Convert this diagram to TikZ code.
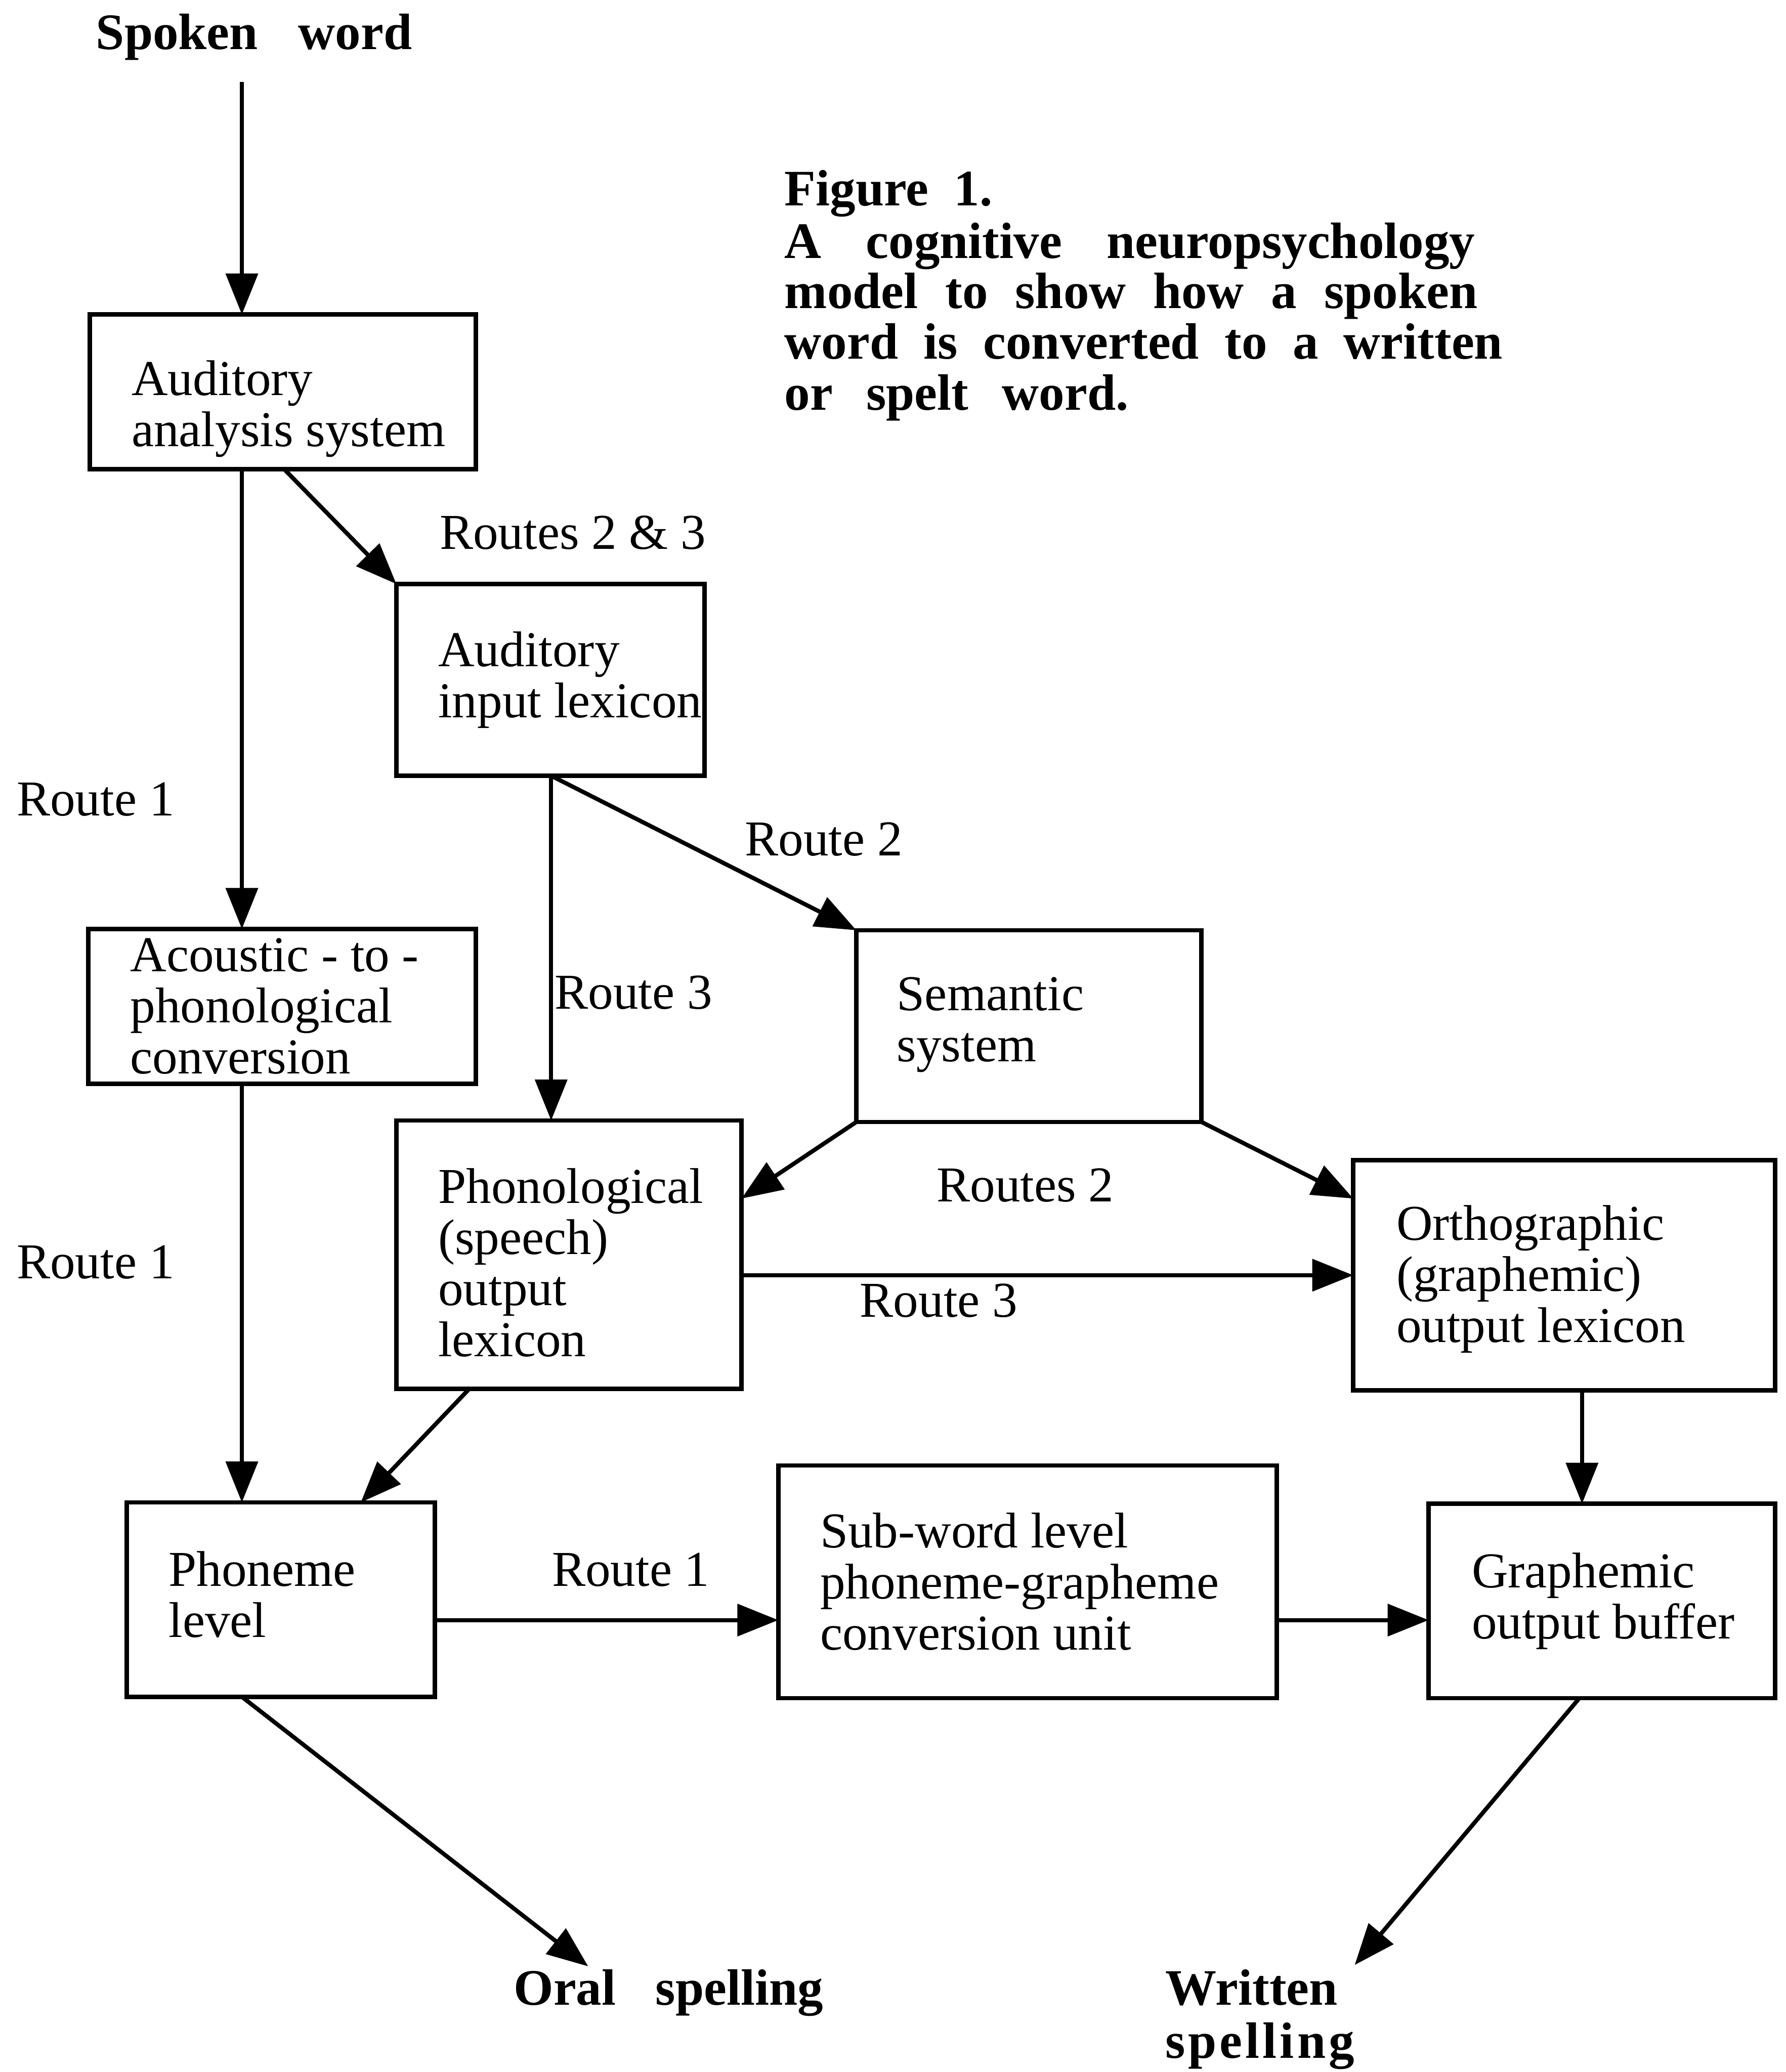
\documentclass[tikz,border=0pt]{standalone}
\usepackage{fontspec}
\setmainfont{Liberation Serif}
\usetikzlibrary{arrows.meta}
\begin{document}
\begin{tikzpicture}[x=0.01cm,y=-0.01cm,
  box/.style={draw, line width=0.95pt, inner sep=0pt, outer sep=0pt},
  txt/.style={font=\fontsize{10.8}{11}\selectfont, align=left, inner sep=0pt, anchor=west},
  lbl/.style={font=\fontsize{10.8}{11}\selectfont, inner sep=0pt, anchor=west, text height=0.7em, text depth=0.22em, yshift=-0.04cm},
  ttl/.style={font=\fontsize{11}{11}\selectfont\bfseries, inner sep=0pt, anchor=west, text height=0.7em, text depth=0.22em, yshift=-0.04cm},
  arr/.style={line width=0.9pt, -{Triangle[length=0.31cm,width=0.24cm]}},
]
\useasboundingbox (0,0) rectangle (1351,1568);

% helper coordinates
\coordinate (c183) at (183,0);
\coordinate (c215) at (215,0);
\coordinate (c417) at (417,0);
\coordinate (c1197) at (1197,0);
\coordinate (c1195) at (1195,0);
\coordinate (c355) at (355,0);
\coordinate (c273) at (273,0);
\coordinate (y907) at (0,907);
\coordinate (y1226) at (0,1226);

% titles
\node[ttl] (spk) at (72,25) {\makebox[2.39cm][s]{Spoken word}};
\node[ttl] (cap1) at (593,143) {\makebox[1.57cm][s]{Figure 1.}};
\node[ttl] (cap2) at (593,183) {\makebox[5.22cm][s]{A cognitive neuropsychology}};
\node[ttl] (cap3) at (593,221) {\makebox[5.24cm][s]{model to show how a spoken}};
\node[ttl] (cap4) at (593,259) {\makebox[5.43cm][s]{word is converted to a written}};
\node[ttl] (cap5) at (593,298) {\makebox[2.60cm][s]{or spelt word.}};
\node[ttl] (oral) at (388,1505) {\makebox[2.34cm][s]{Oral spelling}};
\node[ttl] (wr1) at (881,1505) {Written};
\node[ttl] (wr2) at (881,1545) {\addfontfeature{LetterSpace=6}spelling};

% boxes
\node[box, minimum width=2.92cm, minimum height=1.17cm] (aas) at (214,296.5) {};
\node[txt] (aast) at ([xshift=0.31cm,yshift=-0.13cm]aas.west) {Auditory\\analysis system};
\node[box, minimum width=2.33cm, minimum height=1.45cm] (ail) at (416.5,514.5) {};
\node[txt] (ailt) at ([xshift=0.31cm]ail.west) {Auditory\\input lexicon};
\node[box, minimum width=2.93cm, minimum height=1.17cm] (atp) at (213.5,761.5) {};
\node[txt] (atpt) at ([xshift=0.31cm]atp.west) {Acoustic - to -\\phonological\\conversion};
\node[box, minimum width=2.61cm, minimum height=1.45cm] (sem) at (778.5,776.5) {};
\node[txt] (semt) at ([xshift=0.30cm,yshift=0.01cm]sem.west) {Semantic\\system};
\node[box, minimum width=2.61cm, minimum height=2.03cm] (pol) at (430.5,949.5) {};
\node[txt] (polt) at ([xshift=0.31cm,yshift=-0.06cm]pol.west) {Phonological\\(speech)\\output\\lexicon};
\node[box, minimum width=3.19cm, minimum height=1.74cm] (ool) at (1183.5,965) {};
\node[txt] (oolt) at ([xshift=0.32cm,yshift=-0.03cm]ool.west) {Orthographic\\(graphemic)\\output lexicon};
\node[box, minimum width=2.33cm, minimum height=1.47cm] (phl) at (212.5,1210.5) {};
\node[txt] (phlt) at ([xshift=0.31cm,yshift=0.04cm]phl.west) {Phoneme\\level};
\node[box, minimum width=3.77cm, minimum height=1.76cm] (swl) at (777.5,1197) {};
\node[txt] (swlt) at ([xshift=0.31cm]swl.west) {Sub-word level\\phoneme-grapheme\\conversion unit};
\node[box, minimum width=2.62cm, minimum height=1.47cm] (gob) at (1212,1211.5) {};
\node[txt] (gobt) at ([xshift=0.32cm]gob.west) {Graphemic\\output buffer};

% route labels
\node[lbl] (r23) at (332,403) {Routes 2 \& 3};
\node[lbl] (r1a) at (12,605) {Route 1};
\node[lbl] (r2) at (563,635) {Route 2};
\node[lbl] (r3a) at (419,751) {Route 3};
\node[lbl] (r2s) at (708,897) {Routes 2};
\node[lbl] (r3b) at (650,984) {Route 3};
\node[lbl] (r1b) at (12,955) {Route 1};
\node[lbl] (r1c) at (417,1188) {Route 1};

% free ends
\coordinate (swtop) at (183,62);
\coordinate (oralt) at (445,1488);
\coordinate (wrt) at (1025,1487);

% connectors
\draw[arr] (swtop) -- (aas.north -| c183);
\draw[arr] (aas.south -| c215) -- (ail.north west);
\draw[arr] (aas.south -| c183) -- (atp.north -| c183);
\draw[arr] (ail.south -| c417) -- (pol.north -| c417);
\draw[arr] (ail.south -| c417) -- (sem.north west);
\draw[arr] (sem.south west) -- (pol.east |- y907);
\draw[arr] (sem.south east) -- (ool.west |- y907);
\draw[arr] (pol.east |- ool.west) -- (ool.west);
\draw[arr] (ool.south -| c1197) -- (gob.north -| c1197);
\draw[arr] (atp.south -| c183) -- (phl.north -| c183);
\draw[arr] (pol.south -| c355) -- (phl.north -| c273);
\draw[arr] (phl.east |- y1226) -- (swl.west |- y1226);
\draw[arr] (swl.east |- y1226) -- (gob.west |- y1226);
\draw[arr] (phl.south -| c183) -- (oralt);
\draw[arr] (gob.south -| c1195) -- (wrt);
\end{tikzpicture}
\end{document}
